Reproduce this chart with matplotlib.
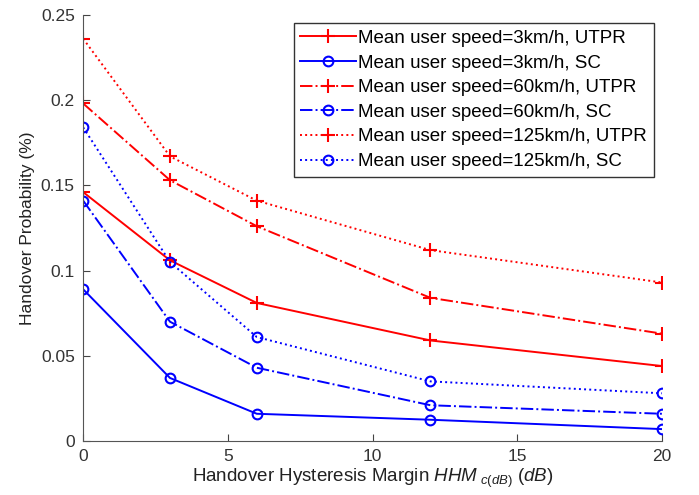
import numpy as np
import matplotlib
matplotlib.use("Agg")
import matplotlib.pyplot as plt

plt.rcParams['font.family'] = ['Liberation Sans', 'DejaVu Sans']
plt.rcParams['mathtext.fontset'] = 'custom'
plt.rcParams['mathtext.it'] = 'Liberation Sans:italic'
plt.rcParams['mathtext.rm'] = 'Liberation Sans'

# ヒステリシスマージン (dB)
hhm = [0, 3, 6, 12, 20]

utpr_3 = [0.146, 0.106, 0.081, 0.059, 0.044]
sc_3 = [0.089, 0.037, 0.016, 0.0125, 0.007]
utpr_60 = [0.198, 0.153, 0.126, 0.084, 0.063]
sc_60 = [0.141, 0.070, 0.043, 0.021, 0.016]
utpr_125 = [0.236, 0.167, 0.141, 0.112, 0.093]
sc_125 = [0.184, 0.105, 0.061, 0.035, 0.028]

labels = [
    'Mean user speed=3km/h, UTPR',
    'Mean user speed=3km/h, SC',
    'Mean user speed=60km/h, UTPR',
    'Mean user speed=60km/h, SC',
    'Mean user speed=125km/h, UTPR',
    'Mean user speed=125km/h, SC',
]

fig = plt.figure(figsize=(6.99, 4.95), dpi=100)
ax = fig.add_axes([0.119, 0.109, 0.828, 0.861])

series = [utpr_3, sc_3, utpr_60, sc_60, utpr_125, sc_125]
colors = ['red', 'blue'] * 3
markers = ['+', 'o'] * 3
styles = ['-', '-', '-.', '-.', ':', ':']

for ys, c, m, ls, lab in zip(series, colors, markers, styles, labels):
    if m == '+':
        ax.plot(hhm, ys, color=c, linestyle=ls, marker=m, markersize=10,
                markeredgewidth=1.5, linewidth=1.4, label=lab)
    else:
        ax.plot(hhm, ys, color=c, linestyle=ls, marker=m, markersize=7,
                markerfacecolor='none', markeredgewidth=1.5, linewidth=1.4,
                label=lab)

ax.set_xlim(0, 20)
ax.set_ylim(0, 0.25)
ax.set_xticks([0, 5, 10, 15, 20])
ax.set_xticklabels(['0', '5', '10', '15', '20'])
ax.set_yticks([0, 0.05, 0.1, 0.15, 0.2, 0.25])
ax.set_yticklabels(['0', '0.05', '0.1', '0.15', '0.2', '0.25'])
ax.tick_params(direction='in', labelsize=12.5, length=5, color='#444444',
               labelcolor='#333333', pad=6)
ax.spines['top'].set_visible(False)
ax.spines['right'].set_visible(False)
for sp in ['left', 'bottom']:
    ax.spines[sp].set_color('#555555')

ax.set_xlabel(r'Handover Hysteresis Margin $HHM_{\ c(dB)}$ $\mathit{(dB)}$',
              fontsize=13.5, color='#222222', labelpad=2)
ax.set_ylabel('Handover Probability (%)', fontsize=12.5, color='#222222')

leg = ax.legend(loc='upper right', fontsize=13.5, frameon=True, fancybox=False,
                edgecolor='black', handlelength=3.0, handletextpad=0.1,
                borderpad=0.35, labelspacing=0.4, borderaxespad=0.45)
leg.get_frame().set_linewidth(1.0)

fig.savefig('out.png', dpi=100)
